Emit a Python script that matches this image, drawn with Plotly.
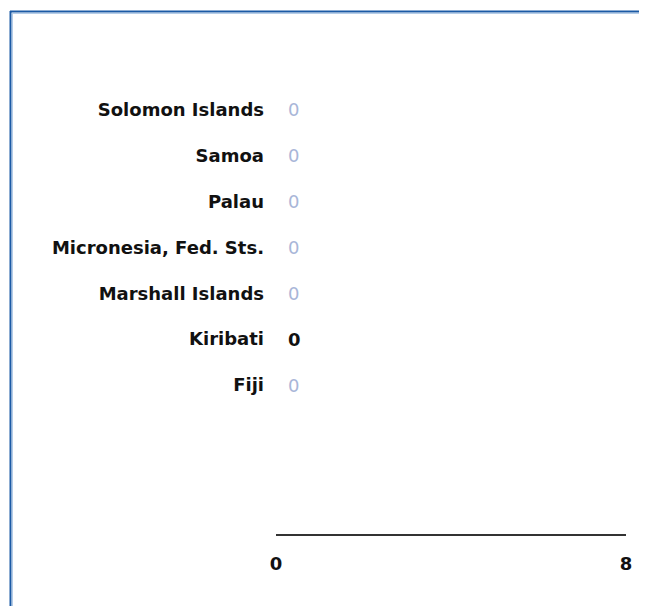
import plotly.graph_objects as go

countries = ["Fiji", "Kiribati", "Marshall Islands", "Micronesia, Fed. Sts.",
             "Palau", "Samoa", "Solomon Islands"]
values = [0, 0, 0, 0, 0, 0, 0]
highlight = "Kiribati"
x_ticks = [0, 8]

# page draws the figure with an 8px offset; keep it inside the window
OFF = 8
W, H = 647 - OFF, 606 - OFF
ml, mr, mt, mb = 276 - OFF, W - (626 - OFF), 87 - OFF, H - (534 - OFF)
FS = 18

fig = go.Figure()
fig.add_trace(go.Bar(
    x=values, y=countries, orientation="h",
    marker=dict(color="#1f5fa8", line=dict(width=0)), width=0.6,
    hoverinfo="skip", showlegend=False,
))

for c, v in zip(countries, values):
    hi = c == highlight
    fig.add_annotation(
        x=v, y=c, xref="x", yref="y", text=str(v), showarrow=False,
        xanchor="left", xshift=10,
        font=dict(family="DejaVu Sans", size=FS,
                  color="#111111" if hi else "#a9b6d8",
                  weight="bold" if hi else "normal"),
    )

pw = W - ml - mr
ph = H - mt - mb
def px_x(p):
    return (p - OFF - ml) / pw
def px_y(p):
    return (H - mb - (p - OFF)) / ph

# outer container frame (top and left edges)
for (x0, y0, x1, y1, col, w) in [
    (10.5, 11, 10.5, 620, "#1b5aa5", 2),
    (12.5, 13, 12.5, 620, "#b5cde8", 1),
    (10, 11.5, 660, 11.5, "#1b5aa5", 2),
    (12, 13.5, 660, 13.5, "#b5cde8", 1),
]:
    fig.add_shape(type="line", xref="paper", yref="paper",
                  x0=px_x(x0), x1=px_x(x1), y0=px_y(y0), y1=px_y(y1),
                  line=dict(color=col, width=w))

fig.update_layout(
    width=W, height=H,
    margin=dict(l=ml, r=mr, t=mt, b=mb),
    paper_bgcolor="white", plot_bgcolor="white",
    font=dict(family="DejaVu Sans", size=FS, color="#111111"),
    xaxis=dict(range=[0, 8], tickvals=x_ticks, ticktext=[str(t) for t in x_ticks],
               showgrid=False, zeroline=False, showline=True,
               linecolor="#333333", linewidth=2, ticks="",
               tickfont=dict(family="DejaVu Sans", size=FS, weight="bold", color="#111111"),
               ticklabelstandoff=12, fixedrange=True),
    yaxis=dict(range=[-3.25, 6.5], showgrid=False, zeroline=False, showline=False,
               ticks="", ticklabelstandoff=11,
               tickfont=dict(family="DejaVu Sans", size=FS, weight="bold", color="#111111"),
               fixedrange=True),
)

fig.write_html("out.html")
